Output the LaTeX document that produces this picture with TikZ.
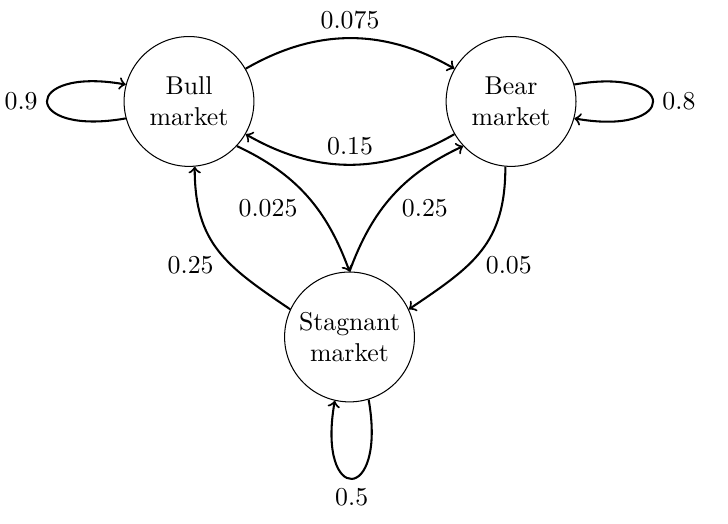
\documentclass[tikz,border=0pt]{standalone}
\usepackage{amsmath,amssymb}
\usepackage{tikz}

\begin{document}
\begin{tikzpicture}[
        % distancia entre Bull y Bear
        node distance=4.39cm,
        market/.style={circle, draw, minimum size=1.77cm, inner sep=0pt, align=center},
        trans/.style={->, thick}
    ]
        \useasboundingbox (0,0) rectangle (9.923,7.142);
        \node [market] (bull) at (2.576,5.759) {Bull\\market};
        \node [market, right of=bull] (bear) {Bear\\market};
        \node [market] (stag) at (4.764,2.549) {Stagnant\\market};

        % lazos
        \draw[trans] (bull.195) to[out=190, in=170, distance=1.45cm] node[left] {0.9} (bull.165);
        \draw[trans] (bear.15) to[out=10, in=-10, distance=1.45cm] node[right] {0.8} (bear.-15);
        \draw[trans] (stag.-73) to[out=-80, in=-100, distance=1.45cm] node[below] {0.5} (stag.-103);

        \draw[trans] (bull) to[bend left=30] node[above] {0.075} (bear);
        \draw[trans] (bear) to[bend left=30] node[above] {0.15} (bull);
        \draw[trans] (bull.-43) to[out=-25, in=110] node[pos=0.6, left=1.4mm] {0.025} (stag.90);
        \draw[trans] (stag.90) to[out=70, in=-155] node[pos=0.4, right=1.4mm] {0.25} (bear.-137);
        \draw[trans] (stag.155) to[out=146, in=-90, looseness=1.15] node[pos=0.38, left=1.1mm] {0.25} (bull.-85);
        \draw[trans] (bear.-95) to[out=-90, in=34, looseness=1.15] node[pos=0.62, right=1.1mm] {0.05} (stag.25);
\end{tikzpicture}
\end{document}
